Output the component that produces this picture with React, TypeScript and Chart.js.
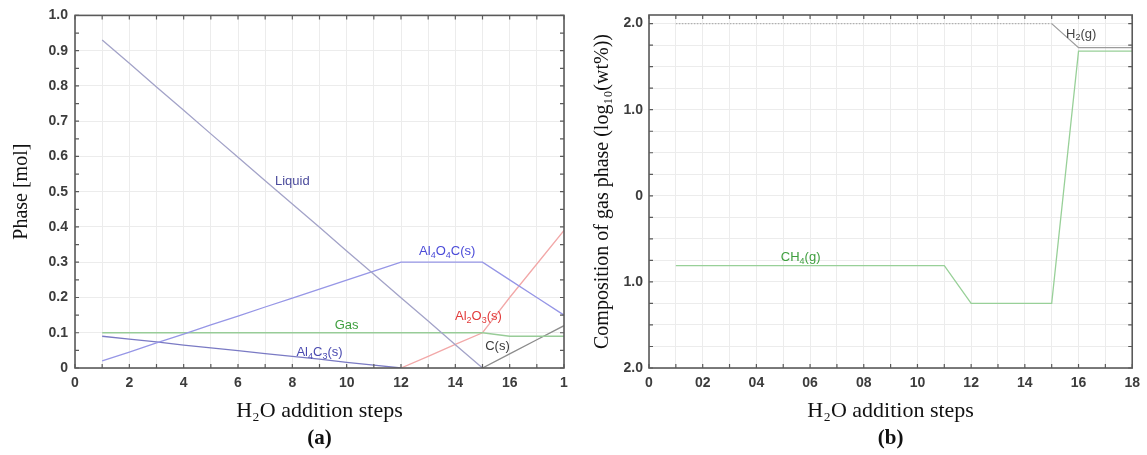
import React, { useEffect, useRef } from "react";
import { Chart, registerables } from "chart.js";

Chart.register(...registerables);

// ---------- data ----------
const steps = [1, 2, 3, 4, 5, 6, 7, 8, 9, 10, 11, 12, 13, 14, 15, 16, 17, 18];

// panel (a): phase amounts [mol]
const liquid = [0.93, 0.864, 0.797, 0.731, 0.664, 0.598, 0.531, 0.465, 0.399, 0.332, 0.266, 0.199, 0.133, 0.066, 0.0, null, null, null];
const al4o4c = [0.02, 0.045, 0.071, 0.096, 0.122, 0.147, 0.173, 0.198, 0.224, 0.249, 0.275, 0.3, 0.3, 0.3, 0.3, 0.25, 0.2, 0.15];
const al4c3 = [0.09, 0.082, 0.074, 0.065, 0.057, 0.049, 0.041, 0.033, 0.025, 0.016, 0.008, 0.0, null, null, null, null, null, null];
const gas = [0.1, 0.1, 0.1, 0.1, 0.1, 0.1, 0.1, 0.1, 0.1, 0.1, 0.1, 0.1, 0.1, 0.1, 0.1, 0.09, 0.09, 0.09];
const al2o3 = [null, null, null, null, null, null, null, null, null, null, null, 0.0, 0.033, 0.067, 0.1, 0.2, 0.295, 0.39];
const carbon = [null, null, null, null, null, null, null, null, null, null, null, null, null, null, 0.0, 0.04, 0.08, 0.12];

// panel (b): gas phase composition log10(wt%)
const h2 = [2.0, 2.0, 2.0, 2.0, 2.0, 2.0, 2.0, 2.0, 2.0, 2.0, 2.0, 2.0, 2.0, 2.0, 2.0, 1.72, 1.72, 1.72];
const ch4 = [-0.81, -0.81, -0.81, -0.81, -0.81, -0.81, -0.81, -0.81, -0.81, -0.81, -0.81, -1.25, -1.25, -1.25, -1.25, 1.68, 1.68, 1.68];

// ticks
const leftXTickValues = [0, 1, 2, 3, 4, 5, 6, 7, 8, 9, 10, 11, 12, 13, 14, 15, 16, 17, 18];
const leftXTickLabels = ["0", "", "2", "", "4", "", "6", "", "8", "", "10", "", "12", "", "14", "", "16", "", "1"];
const leftYTickValues = [0, 0.1, 0.2, 0.3, 0.4, 0.5, 0.6, 0.7, 0.8, 0.9, 1.0];
const leftYTickLabels = ["0", "0.1", "0.2", "0.3", "0.4", "0.5", "0.6", "0.7", "0.8", "0.9", "1.0"];
const rightXTickValues = [0, 1, 2, 3, 4, 5, 6, 7, 8, 9, 10, 11, 12, 13, 14, 15, 16, 17, 18];
const rightXTickLabels = ["0", "", "02", "", "04", "", "06", "", "08", "", "10", "", "12", "", "14", "", "16", "", "18"];
const rightYTickValues = [-2, -1.75, -1.5, -1.25, -1, -0.75, -0.5, -0.25, 0, 0.25, 0.5, 0.75, 1, 1.25, 1.5, 1.75, 2];
const rightYTickLabels = ["2.0", "", "", "", "1.0", "", "", "", "0", "", "", "", "1.0", "", "", "", "2.0"];

// in-plot labels ({..} = subscript)
const leftLabelTexts = ["Liquid", "Al{4}O{4}C(s)", "Gas", "Al{2}O{3}(s)", "Al{4}C{3}(s)", "C(s)"];
const leftLabelX = [8.0, 13.7, 10.0, 14.85, 9.0, 15.55];
const leftLabelY = [0.53, 0.33, 0.12, 0.147, 0.045, 0.06];
const leftLabelColors = ["#4b4b9c", "#4a4ad8", "#3f9f3f", "#e23a3a", "#4a4ab0", "#3a3a3a"];
const rightLabelTexts = ["H{2}(g)", "CH{4}(g)"];
const rightLabelX = [16.1, 5.65];
const rightLabelY = [1.88, -0.72];
const rightLabelColors = ["#444444", "#3f9f3f"];

// ---------- helpers ----------
const toPts = (vals: (number | null)[]) =>
  steps.map((s, i) => ({ x: s, y: vals[i] })).filter((p) => p.y !== null) as { x: number; y: number }[];

function drawRich(ctx: CanvasRenderingContext2D, text: string, cx: number, cy: number, size: number, color: string) {
  const parts: { t: string; sub: boolean }[] = [];
  const re = /\{([^}]*)\}|([^{]+)/g;
  let m: RegExpExecArray | null;
  while ((m = re.exec(text))) {
    if (m[1] !== undefined) parts.push({ t: m[1], sub: true });
    else parts.push({ t: m[2], sub: false });
  }
  const fMain = `${size}px "Liberation Sans", Arial, sans-serif`;
  const fSub = `${Math.round(size * 0.68)}px "Liberation Sans", Arial, sans-serif`;
  let total = 0;
  for (const p of parts) {
    ctx.font = p.sub ? fSub : fMain;
    total += ctx.measureText(p.t).width;
  }
  let x = cx - total / 2;
  ctx.fillStyle = color;
  ctx.textBaseline = "middle";
  ctx.textAlign = "left";
  for (const p of parts) {
    ctx.font = p.sub ? fSub : fMain;
    ctx.fillText(p.t, x, p.sub ? cy + size * 0.3 : cy);
    x += ctx.measureText(p.t).width;
  }
}

const annotPlugin = {
  id: "annot",
  afterDatasetsDraw(chart: any, _args: any, opts: any) {
    const { ctx, scales } = chart;
    ctx.save();
    opts.texts.forEach((t: string, i: number) => {
      drawRich(ctx, t, scales.x.getPixelForValue(opts.xs[i]), scales.y.getPixelForValue(opts.ys[i]), 13, opts.colors[i]);
    });
    ctx.restore();
  },
};

const frameTicksPlugin = {
  id: "frameTicks",
  afterDraw(chart: any, _args: any, opts: any) {
    const { ctx, chartArea: a, scales } = chart;
    ctx.save();
    ctx.strokeStyle = "#5a5a5a";
    ctx.lineWidth = 1.2;
    const len = 4;
    const xs = scales.x, ys = scales.y;
    const nx = Math.round((xs.max - xs.min) / opts.xStep + 1e-6);
    ctx.beginPath();
    for (let i = 0; i <= nx; i++) {
      const px = xs.getPixelForValue(xs.min + i * opts.xStep);
      ctx.moveTo(px, a.top); ctx.lineTo(px, a.top + len);
      ctx.moveTo(px, a.bottom); ctx.lineTo(px, a.bottom - len);
    }
    const ny = Math.floor((ys.max - opts.yStart) / opts.yStep + 1e-6);
    for (let i = 0; i <= ny; i++) {
      const py = ys.getPixelForValue(opts.yStart + i * opts.yStep);
      ctx.moveTo(a.left, py); ctx.lineTo(a.left + len, py);
      ctx.moveTo(a.right, py); ctx.lineTo(a.right - len, py);
    }
    ctx.stroke();
    ctx.lineWidth = 1.6;
    ctx.strokeRect(a.left, a.top, a.right - a.left, a.bottom - a.top);
    ctx.restore();
    // panel letter
    ctx.save();
    ctx.font = 'bold 21px "Liberation Serif", "Times New Roman", serif';
    ctx.fillStyle = "#111";
    ctx.textAlign = "center";
    ctx.textBaseline = "middle";
    ctx.fillText(opts.letter, (a.left + a.right) / 2, a.bottom + 71);
    ctx.restore();
  },
};

const tickFont = { family: '"Liberation Sans", Arial, sans-serif', size: 14, weight: "bold" as const };
const yTitleFont = { family: '"Liberation Serif", "Times New Roman", serif', size: 20 };
const xTitleFont = { family: '"Liberation Serif", "Times New Roman", serif', size: 22 };
const gridColor = "#ececec";

function line(data: { x: number; y: number }[], color: string, extra: any = {}) {
  return { data, borderColor: color, borderWidth: 1.3, pointRadius: 0, fill: false, tension: 0, ...extra };
}

function makeLeft(canvas: HTMLCanvasElement) {
  return new Chart(canvas, {
    type: "line",
    data: {
      datasets: [
        line(toPts(liquid), "#a3a3c8"),
        line(toPts(al4o4c), "#9696e6"),
        line(toPts(al4c3), "#7a7ac4"),
        line(toPts(gas), "#98cc98"),
        line(toPts(al2o3), "#f2a8a8"),
        line(toPts(carbon), "#8c8c8c"),
      ] as any,
    },
    options: {
      animation: false,
      responsive: false,
      layout: { padding: { left: 0, top: 15, right: 11, bottom: 0 } },
      plugins: {
        legend: { display: false },
        tooltip: { enabled: false },
        annot: { texts: leftLabelTexts, xs: leftLabelX, ys: leftLabelY, colors: leftLabelColors },
        frameTicks: { xStep: 1, yStep: 0.05, yStart: 0, letter: "(a)" },
      } as any,
      scales: {
        x: {
          type: "linear",
          min: 0,
          max: 18,
          afterBuildTicks: (s: any) => { s.ticks = leftXTickValues.map((v) => ({ value: v })); },
          afterFit: (s: any) => { s.height = 87; },
          ticks: {
            autoSkip: false, maxRotation: 0, padding: 7, color: "#3c3c3c", font: tickFont,
            callback: (_v: any, i: number) => leftXTickLabels[i],
          },
          grid: { color: gridColor, drawTicks: false },
          border: { display: false },
          title: { display: true, text: "H₂O addition steps", font: xTitleFont, color: "#111", padding: { top: 0, bottom: 31 } },
        },
        y: {
          type: "linear",
          min: 0,
          max: 1,
          afterBuildTicks: (s: any) => { s.ticks = leftYTickValues.map((v) => ({ value: v })); },
          afterFit: (s: any) => { s.width = 75; },
          ticks: {
            autoSkip: false, padding: 7, color: "#3c3c3c", font: tickFont,
            callback: (_v: any, i: number) => leftYTickLabels[i],
          },
          grid: { color: gridColor, drawTicks: false },
          border: { display: false },
          title: { display: true, text: "Phase [mol]", font: yTitleFont, color: "#111", padding: { top: 10, bottom: 0 } },
        },
      },
    } as any,
    plugins: [annotPlugin, frameTicksPlugin] as any,
  });
}

function makeRight(canvas: HTMLCanvasElement) {
  return new Chart(canvas, {
    type: "line",
    data: {
      datasets: [
        line(toPts(h2), "#9c9c9c", {
          segment: {
            borderDash: (c: any) => (c.p1DataIndex <= 14 ? [1.5, 1.5] : undefined),
            borderColor: (c: any) => (c.p1DataIndex <= 14 ? "#b0b0b0" : undefined),
          },
        }),
        line(toPts(ch4), "#98d098"),
      ] as any,
    },
    options: {
      animation: false,
      responsive: false,
      layout: { padding: { left: 0, top: 15, right: 10, bottom: 0 } },
      plugins: {
        legend: { display: false },
        tooltip: { enabled: false },
        annot: { texts: rightLabelTexts, xs: rightLabelX, ys: rightLabelY, colors: rightLabelColors },
        frameTicks: { xStep: 1, yStep: 0.25, yStart: -2, letter: "(b)" },
      } as any,
      scales: {
        x: {
          type: "linear",
          min: 0,
          max: 18,
          afterBuildTicks: (s: any) => { s.ticks = rightXTickValues.map((v) => ({ value: v })); },
          afterFit: (s: any) => { s.height = 87; },
          ticks: {
            autoSkip: false, maxRotation: 0, padding: 7, color: "#3c3c3c", font: tickFont,
            callback: (_v: any, i: number) => rightXTickLabels[i],
          },
          grid: { color: gridColor, drawTicks: false },
          border: { display: false },
          title: { display: true, text: "H₂O addition steps", font: xTitleFont, color: "#111", padding: { top: 0, bottom: 31 } },
        },
        y: {
          type: "linear",
          min: -2,
          max: 2.1,
          afterBuildTicks: (s: any) => { s.ticks = rightYTickValues.map((v) => ({ value: v })); },
          afterFit: (s: any) => { s.width = 74; },
          ticks: {
            autoSkip: false, padding: 6, color: "#3c3c3c", font: tickFont,
            callback: (_v: any, i: number) => rightYTickLabels[i],
          },
          grid: { color: gridColor, drawTicks: false },
          border: { display: false },
          title: {
            display: true, text: "Composition of gas phase (log₁₀(wt%))", font: yTitleFont, color: "#111",
            padding: { top: 16, bottom: 0 },
          },
        },
      },
    } as any,
    plugins: [annotPlugin, frameTicksPlugin] as any,
  });
}

export default function App() {
  const leftRef = useRef<HTMLCanvasElement>(null);
  const rightRef = useRef<HTMLCanvasElement>(null);
  useEffect(() => {
    const a = makeLeft(leftRef.current!);
    const b = makeRight(rightRef.current!);
    return () => { a.destroy(); b.destroy(); };
  }, []);
  return (
    <div style={{ position: "absolute", left: 0, top: 0, width: 1147, height: 455, background: "#fff", overflow: "hidden" }}>
      <canvas ref={leftRef} width={575} height={455} style={{ position: "absolute", left: 0, top: 0, width: 575, height: 455 }} />
      <canvas ref={rightRef} width={572} height={455} style={{ position: "absolute", left: 575, top: 0, width: 572, height: 455 }} />
    </div>
  );
}
